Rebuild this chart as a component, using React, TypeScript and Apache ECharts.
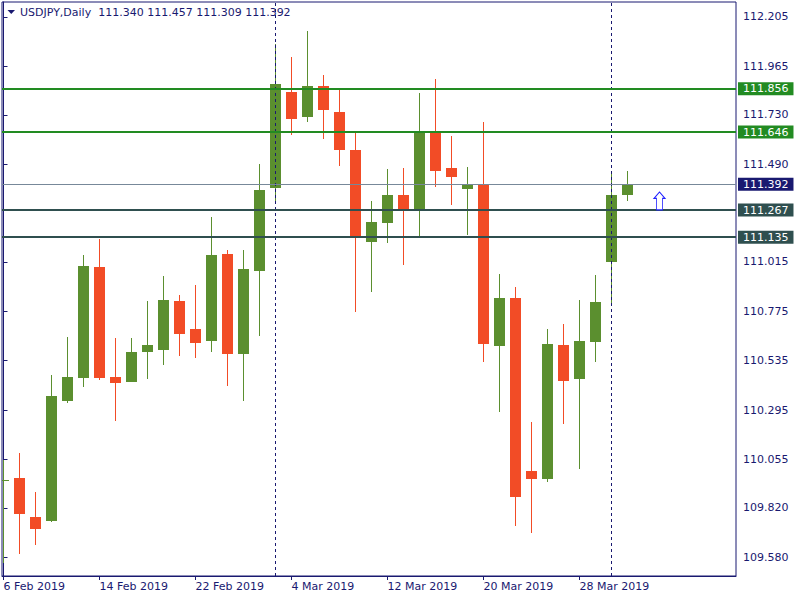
import React, { useEffect, useRef } from "react";
import * as echarts from "echarts";

const dates = [
  "6 Feb 2019", "7 Feb 2019", "8 Feb 2019", "11 Feb 2019", "12 Feb 2019", "13 Feb 2019",
  "14 Feb 2019", "15 Feb 2019", "18 Feb 2019", "19 Feb 2019", "20 Feb 2019", "21 Feb 2019",
  "22 Feb 2019", "25 Feb 2019", "26 Feb 2019", "27 Feb 2019", "28 Feb 2019", "1 Mar 2019",
  "4 Mar 2019", "5 Mar 2019", "6 Mar 2019", "7 Mar 2019", "8 Mar 2019", "11 Mar 2019",
  "12 Mar 2019", "13 Mar 2019", "14 Mar 2019", "15 Mar 2019", "18 Mar 2019", "19 Mar 2019",
  "20 Mar 2019", "21 Mar 2019", "22 Mar 2019", "25 Mar 2019", "26 Mar 2019", "27 Mar 2019",
  "28 Mar 2019", "29 Mar 2019", "1 Apr 2019", "2 Apr 2019",
];

const opens = [
  109.950, 109.965, 109.775, 109.758, 110.339, 110.452, 110.990, 110.456, 110.433, 110.579,
  110.588, 110.825, 110.689, 110.632, 111.053, 110.569, 110.972, 111.376, 111.841, 111.721,
  111.870, 111.743, 111.559, 111.113, 111.206, 111.340, 111.271, 111.651, 111.471, 111.371,
  111.394, 110.608, 110.840, 109.999, 109.962, 110.611, 110.448, 110.627, 111.013, 111.340,
];
const highs = [
  110.052, 110.086, 109.897, 110.465, 110.650, 111.049, 111.126, 110.645, 110.645, 110.825,
  110.947, 110.854, 110.903, 111.233, 111.073, 111.073, 111.491, 112.075, 112.011, 112.137,
  111.923, 111.860, 111.651, 111.311, 111.466, 111.471, 111.836, 111.904, 111.627, 111.476,
  111.695, 110.958, 110.893, 110.237, 110.689, 110.713, 110.831, 110.951, 111.447, 111.457,
];
const lows = [
  109.553, 109.597, 109.641, 109.753, 110.328, 110.409, 110.443, 110.243, 110.433, 110.447,
  110.516, 110.559, 110.549, 110.579, 110.413, 110.339, 110.656, 111.305, 111.633, 111.696,
  111.614, 111.482, 110.773, 110.870, 111.108, 111.001, 111.142, 111.380, 111.293, 111.147,
  110.530, 110.287, 109.733, 109.699, 109.947, 110.229, 110.010, 110.530, 110.804, 111.309,
];
const closes = [
  109.956, 109.792, 109.719, 110.363, 110.456, 110.995, 110.452, 110.428, 110.577, 110.611,
  110.830, 110.666, 110.622, 111.049, 110.569, 110.981, 111.364, 111.879, 111.711, 111.870,
  111.755, 111.560, 111.137, 111.209, 111.340, 111.271, 111.651, 111.458, 111.429, 111.394,
  110.618, 110.840, 109.874, 109.962, 110.616, 110.438, 110.631, 110.820, 111.340, 111.392,
];

const priceTicks = [109.58, 109.82, 110.055, 110.295, 110.535, 110.775, 111.015, 111.49, 111.73, 111.965, 112.205];
const dateTickIndex = [0, 6, 12, 18, 24, 30, 36];
const resistanceLevels = [111.856, 111.646];
const supportLevels = [111.267, 111.135];
const lastPrice = 111.392;
const monthStartIndex = [17, 38];
const arrowPoint = [41, 111.311];

const FONT = "'DejaVu Sans', Verdana, sans-serif";
const NAVY = "#191970";
const BULL = "#5B8F2F";
const BEAR = "#F24C26";

export default function App() {
  const ref = useRef<HTMLDivElement>(null);
  useEffect(() => {
    if (!ref.current) return;
    const chart = echarts.init(ref.current, undefined, { renderer: "svg" });
    const data = opens.map((o, i) => [i, o, closes[i], lows[i], highs[i]]);
    const levelLabel = (bg: string, v: number) => ({
      show: true,
      position: "end",
      distance: 2,
      formatter: () => v.toFixed(3),
      color: "#ffffff",
      backgroundColor: bg,
      padding: [1, 5, 1, 5],
      fontSize: 11,
      lineHeight: 11,
      fontFamily: FONT,
    });
    const option: any = {
      animation: false,
      backgroundColor: "#ffffff",
      title: {
        text: "USDJPY,Daily  " + [opens[39], highs[39], lows[39], closes[39]].map((v) => v.toFixed(3)).join(" "),
        left: 20,
        top: 7,
        padding: 0,
        textStyle: { fontSize: 11, fontWeight: "normal", fontFamily: FONT, color: NAVY },
      },
      graphic: [
        {
          type: "polygon",
          shape: { points: [[7.5, 10], [15, 10], [11.25, 14]] },
          style: { fill: NAVY },
        },
      ],
      grid: {
        left: 2,
        top: 2,
        right: 64,
        bottom: 24,
        show: true,
        borderColor: NAVY,
        borderWidth: 1,
        backgroundColor: "#ffffff",
      },
      xAxis: {
        type: "value",
        min: (2 - 3.5) / 16,
        max: (736 - 3.5) / 16,
        axisLine: { show: true, lineStyle: { color: NAVY, width: 1 } },
        axisTick: { show: true, length: 4, lineStyle: { color: NAVY }, customValues: dateTickIndex },
        axisLabel: {
          customValues: dateTickIndex,
          formatter: (v: number) => dates[Math.round(v)] || "",
          align: "left",
          margin: 5,
          color: NAVY,
          fontSize: 11,
          fontFamily: FONT,
        },
        splitLine: { show: false },
      },
      yAxis: {
        type: "value",
        position: "right",
        min: 112.2876 - 576 / 205.8,
        max: 112.2876 - 2 / 205.8,
        axisLine: { show: true, lineStyle: { color: NAVY, width: 1 } },
        axisTick: { show: true, length: 4, lineStyle: { color: NAVY }, customValues: priceTicks },
        axisLabel: {
          customValues: priceTicks,
          formatter: (v: number) => v.toFixed(3),
          margin: 7,
          color: NAVY,
          fontSize: 11,
          fontFamily: FONT,
        },
        splitLine: { show: false },
      },
      series: [
        {
          type: "custom",
          clip: true,
          data,
          encode: { x: 0, y: [1, 2, 3, 4] },
          renderItem: (params: any, api: any) => {
            const i = api.value(0);
            const o = api.value(1);
            const c = api.value(2);
            const l = api.value(3);
            const h = api.value(4);
            const pO = api.coord([i, o]);
            const pC = api.coord([i, c]);
            const pL = api.coord([i, l]);
            const pH = api.coord([i, h]);
            const px = Math.floor(pO[0] + 1e-6);
            const color = c >= o ? BULL : BEAR;
            const top = Math.round(Math.min(pO[1], pC[1]));
            const bot = Math.round(Math.max(pO[1], pC[1]));
            const hy = Math.round(pH[1]);
            const ly = Math.round(pL[1]);
            return {
              type: "group",
              children: [
                { type: "rect", shape: { x: px, y: hy, width: 1, height: Math.max(1, ly - hy) }, style: { fill: color } },
                { type: "rect", shape: { x: px - 5, y: top, width: 11, height: Math.max(1, bot - top) }, style: { fill: color } },
              ],
            };
          },
          markLine: {
            silent: true,
            symbol: "none",
            precision: 3,
            animation: false,
            data: [
              ...monthStartIndex.map((x) => ({
                xAxis: x,
                lineStyle: { color: NAVY, width: 1, type: [3, 3] },
                label: { show: false },
              })),
              { yAxis: lastPrice, lineStyle: { color: "#778899", width: 1, type: "solid" }, label: levelLabel(NAVY, lastPrice) },
              ...resistanceLevels.map((v) => ({
                yAxis: v,
                lineStyle: { color: "#228B22", width: 2, type: "solid" },
                label: levelLabel("#228B22", v),
              })),
              ...supportLevels.map((v) => ({
                yAxis: v,
                lineStyle: { color: "#2F4F4F", width: 2, type: "solid" },
                label: levelLabel("#2F4F4F", v),
              })),
            ],
          },
          markPoint: {
            silent: true,
            animation: false,
            symbol: "path://M5.5,0 L11,6.5 L8.5,6.5 L8.5,18 L2.5,18 L2.5,6.5 L0,6.5 Z",
            symbolSize: [11, 18],
            label: { show: false },
            itemStyle: { color: "#ffffff", borderColor: "#2020FF", borderWidth: 1 },
            data: [{ coord: arrowPoint }],
          },
        },
      ],
    };
    chart.setOption(option);
    return () => chart.dispose();
  }, []);
  return <div ref={ref} style={{ position: "fixed", left: 0, top: 0, width: 800, height: 600 }} />;
}
